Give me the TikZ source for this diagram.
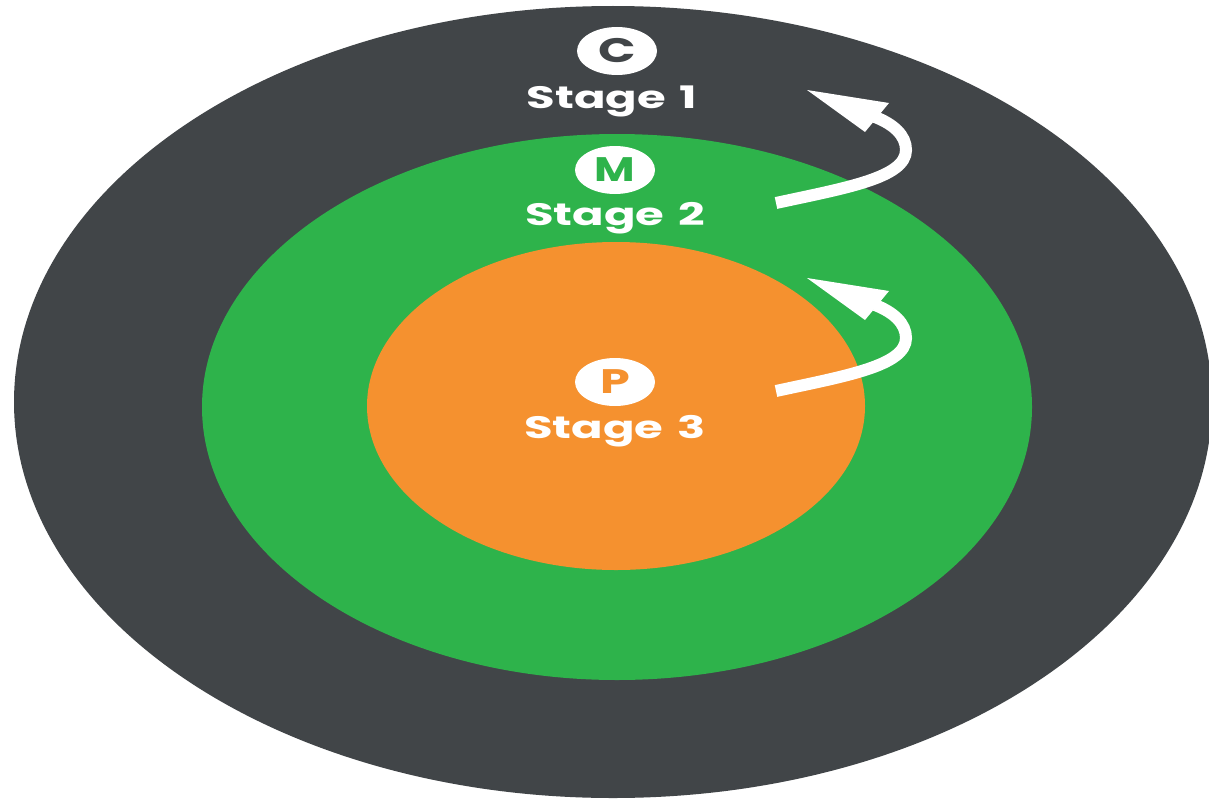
\documentclass[tikz,border=0pt]{standalone}
\usepackage{fontspec}
\setmainfont{Poppins}
\usetikzlibrary{shapes.geometric}
\definecolor{darkring}{HTML}{414548}
\definecolor{greenring}{HTML}{2EB34B}
\definecolor{orangering}{HTML}{F5912F}
\begin{document}
\begin{tikzpicture}[x=1pt,y=-1pt,
  badge/.style={ellipse,fill=white,minimum width=80pt,minimum height=48pt,inner sep=0pt,
    font=\fontsize{34}{34}\selectfont\bfseries},
  stagelabel/.style={text=white,anchor=base,inner sep=0pt,
    font=\fontsize{31}{31}\selectfont\bfseries},
  shaft/.style={draw=white,line width=12pt},
  head/.style={fill=white}]
\fill[white] (0,0) rectangle (1209,800);
\useasboundingbox (0,0) rectangle (1209,800);
% rings
\fill[darkring] (613,402) ellipse [x radius=599, y radius=396];
\fill[greenring] (617,407) ellipse [x radius=415, y radius=273];
\fill[orangering] (616,406) ellipse [x radius=249, y radius=164];
% badges
\node[badge,text=darkring] (bc) at (617,51) {\scalebox{1.45}[1]{C}};
\node[badge,text=greenring] (bm) at (615,170) {\scalebox{1.3}[1]{M}};
\node[badge,text=orangering] (bp) at (615,382) {\scalebox{1.4}[1]{P}};
% labels
\node[stagelabel] (s1) at (612,108) {\scalebox{1.5}[1]{Stage\hspace{0.3em}1}};
\node[stagelabel] (s2) at (615,225) {\scalebox{1.5}[1]{Stage\hspace{0.3em}2}};
\node[stagelabel] (s3) at (615,438) {\scalebox{1.5}[1]{Stage\hspace{0.3em}3}};
% upper arrow
\coordinate (ta) at (776,203);
\coordinate (pa) at (906,150);
\coordinate (ba) at (875,117);
\coordinate (hta) at (807,90);
\coordinate (hla) at (889,103);
\coordinate (hra) at (865,132);
\draw[shaft] (ta) .. controls (845,188) and (906,178) .. (pa)
  .. controls (906,135) and (893,124) .. (ba);
\fill[head] (hta) -- (hla) -- (hra) -- cycle;
% lower arrow
\coordinate (tb) at (776,391);
\coordinate (pb) at (906,338);
\coordinate (bb) at (875,305);
\coordinate (htb) at (807,278);
\coordinate (hlb) at (889,291);
\coordinate (hrb) at (865,320);
\draw[shaft] (tb) .. controls (845,376) and (906,366) .. (pb)
  .. controls (906,323) and (893,312) .. (bb);
\fill[head] (htb) -- (hlb) -- (hrb) -- cycle;
\end{tikzpicture}
\end{document}
